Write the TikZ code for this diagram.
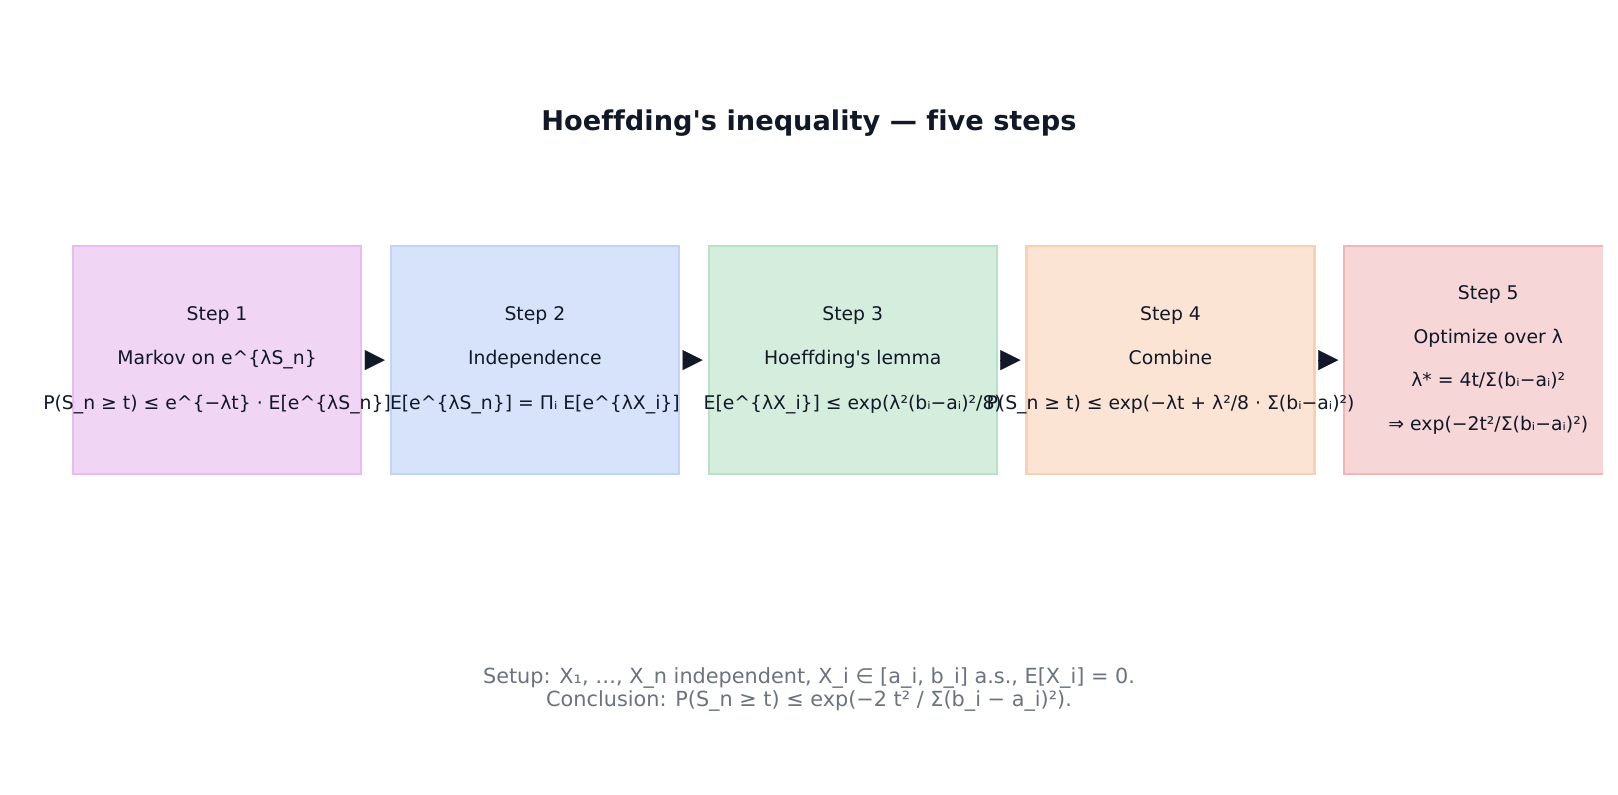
\documentclass[tikz,border=0pt]{standalone}
\usepackage{fontspec}
\setmainfont{DejaVu Sans}[Ligatures=NoCommon]
\newfontfamily\dv{DejaVu Sans}[Ligatures=NoCommon]
\newfontfamily\boldfam{DejaVu Sans Bold}[Ligatures=NoCommon]
\usetikzlibrary{arrows.meta}
\definecolor{ink}{HTML}{111827}
\definecolor{gray6}{HTML}{6B7280}
\definecolor{fA}{HTML}{F0D5F4}\definecolor{bA}{HTML}{EABBF2}
\definecolor{fB}{HTML}{D7E3FA}\definecolor{bB}{HTML}{C0D3F8}
\definecolor{fC}{HTML}{D4EDDD}\definecolor{bC}{HTML}{B8E2C7}
\definecolor{fD}{HTML}{FCE4D5}\definecolor{bD}{HTML}{FBCFB2}
\definecolor{fE}{HTML}{F6D6D6}\definecolor{bE}{HTML}{F2B6B6}
\tikzset{
  stepbox/.style={draw=#1, line width=2.2pt, minimum width=288pt, minimum height=228pt, inner sep=0pt, anchor=north west},
  steptext/.style={text=ink, align=center, font=\dv\fontsize{18.8}{44.4}\selectfont, inner sep=0pt},
  flowarrow/.style={draw=ink, -{Triangle[length=20pt,width=20pt]}, shorten <=3pt, shorten >=5pt, line width=0.1pt}
}
\begin{document}
\begin{tikzpicture}[x=1pt,y=-1pt]
\useasboundingbox[fill=white] (0,0) rectangle (1618,795);
\node[text=ink, font=\boldfam\fontsize{27.2}{32}\selectfont] (title) at (809,123) {Hoeffding's inequality — five steps};
\begin{scope}
\clip (0,0) rectangle (1603,795);
\node[stepbox=bA, fill=fA] (b1) at (72,245) {};
\node[stepbox=bB, fill=fB] (b2) at (389.8,245) {};
\node[stepbox=bC, fill=fC] (b3) at (707.6,245) {};
\node[stepbox=bD, fill=fD] (b4) at (1025.4,245) {};
\node[stepbox=bE, fill=fE] (b5) at (1343.2,245) {};
\node[steptext] (t1) at (b1.center) {Step 1\\Markov on e\^{}\{λS\_n\}\\P(S\_n ≥ t) ≤ e\^{}\{−λt\} · E[e\^{}\{λS\_n\}]};
\node[steptext] (t2) at (b2.center) {Step 2\\Independence\\E[e\^{}\{λS\_n\}] = Πᵢ E[e\^{}\{λX\_i\}]};
\node[steptext] (t3) at (b3.center) {Step 3\\Hoeffding's lemma\\E[e\^{}\{λX\_i\}] ≤ exp(λ²(bᵢ−aᵢ)²/8)};
\node[steptext] (t4) at (b4.center) {Step 4\\Combine\\P(S\_n ≥ t) ≤ exp(−λt + λ²/8 · Σ(bᵢ−aᵢ)²)};
\node[steptext, font=\dv\fontsize{18.8}{43.7}\selectfont] (t5) at (b5.center) {Step 5\\Optimize over λ\\λ* = 4t/Σ(bᵢ−aᵢ)²\\⇒ exp(−2t²/Σ(bᵢ−aᵢ)²)};
\end{scope}
\draw[flowarrow] (b1.east) -- (b2.west);
\draw[flowarrow] (b2.east) -- (b3.west);
\draw[flowarrow] (b3.east) -- (b4.west);
\draw[flowarrow] (b4.east) -- (b5.west);
\node[text=gray6, align=center, font=\dv\fontsize{20.8}{23.8}\selectfont, inner sep=0pt] (note) at (809,689.5) {Setup: X₁, …, X\_n independent, X\_i ∈ [a\_i, b\_i] a.s., E[X\_i] = 0.\\Conclusion: P(S\_n ≥ t) ≤ exp(−2 t² / Σ(b\_i − a\_i)²).};
\end{tikzpicture}
\end{document}
